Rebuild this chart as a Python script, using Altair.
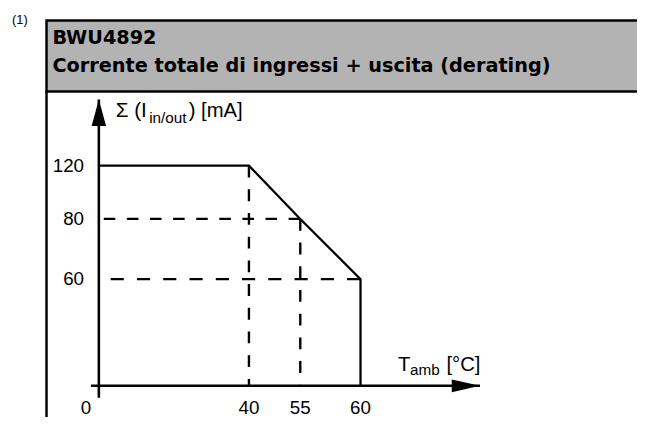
import altair as alt
import pandas as pd

# ---- data ----
curve_temp = [0, 40, 55, 60, 60]
curve_current = [120, 120, 80, 60, 0]

x_tick_values = [40, 55, 60]
x_tick_labels = ["40", "55", "60"]
y_tick_values = [120, 80, 60]
y_tick_labels = ["120", "80", "60"]

guide_h80 = {"current": 80, "t_from": 0, "t_to": 55}
guide_h60 = {"current": 60, "t_from": 0, "t_to": 60}
guide_v40 = {"temp": 40, "c_from": 120, "c_to": 0}
guide_v55 = {"temp": 55, "c_from": 80, "c_to": 0}

x_axis_from, x_axis_to = -2, 78
y_axis_from, y_axis_to = -6, 160

title_line1 = "BWU4892"
title_line2 = "Corrente totale di ingressi + uscita (derating)"
note = "(1)"

FONT = "Liberation Sans"
TFONT = "DejaVu Sans"

# schematic (non-proportional) axes -> piecewise linear scales
xscale = alt.Scale(domain=[-2, 0, 40, 55, 60, 78], range=[84, 92, 244, 296, 357, 478], nice=False, zero=False)
yscale = alt.Scale(domain=[-6, 0, 60, 80, 120, 160], range=[392, 380, 272, 211, 157, 90], nice=False, zero=False)

def X(f):
    return alt.X(f, type="quantitative", scale=xscale, axis=None)

def Y(f):
    return alt.Y(f, type="quantitative", scale=yscale, axis=None)

curve_df = pd.DataFrame({"t": curve_temp, "c": curve_current, "i": range(len(curve_temp))})
axes_df = pd.DataFrame({"t0": [x_axis_from], "t1": [x_axis_to], "c0": [y_axis_from], "c1": [y_axis_to], "z": [0]})

header = alt.Chart(axes_df).mark_rect(fill="#b3b3b3", stroke="black", strokeWidth=2.5).encode(
    x=alt.value(39), x2=alt.value(700), y=alt.value(10), y2=alt.value(82))
leftborder = alt.Chart(axes_df).mark_rule(color="black", strokeWidth=2.5).encode(
    x=alt.value(39), y=alt.value(82), y2=alt.value(430))

t1 = alt.Chart(axes_df).mark_text(text=title_line1, font=TFONT, fontSize=19.5, fontWeight="bold",
                                  align="left", baseline="alphabetic", color="black").encode(
    x=alt.value(45), y=alt.value(34))
t2 = alt.Chart(axes_df).mark_text(text=title_line2, font=TFONT, fontSize=19.5, fontWeight="bold",
                                  align="left", baseline="alphabetic", color="black").encode(
    x=alt.value(45), y=alt.value(62))
t0 = alt.Chart(axes_df).mark_text(text=note, font=FONT, fontSize=13, align="right",
                                  baseline="alphabetic", color="black").encode(
    x=alt.value(20), y=alt.value(14))

xaxis = alt.Chart(axes_df).mark_rule(color="black", strokeWidth=2.6).encode(
    x=X("t0"), x2="t1", y=Y("z"))
yaxis = alt.Chart(axes_df).mark_rule(color="black", strokeWidth=2.6).encode(
    x=X("z"), y=Y("c0"), y2="c1")

yarrow = alt.Chart(axes_df).mark_point(shape="M0,0 L1,3.7 L-1,3.7 Z", size=213, filled=True,
                                       color="black", opacity=1).encode(x=X("z"), y=Y("c1"))
xarrow = alt.Chart(axes_df).mark_point(shape="M0,0 L-4.4,-1 L-4.4,1 Z", size=169, filled=True,
                                       color="black", opacity=1).encode(x=X("t1"), y=Y("z"))

def hguide(g, dash, offset):
    df = pd.DataFrame([g])
    return alt.Chart(df).mark_rule(color="black", strokeWidth=2.4, strokeDash=dash,
                                   strokeDashOffset=offset).encode(
        x=X("t_from"), x2="t_to", y=Y("current"))

def vguide(g, dash):
    df = pd.DataFrame([g])
    return alt.Chart(df).mark_rule(color="black", strokeWidth=2.4, strokeDash=dash).encode(
        x=X("temp"), y=Y("c_from"), y2="c_to")

curve = alt.Chart(curve_df).mark_line(color="black", strokeWidth=2.3).encode(
    x=X("t"), y=Y("c"), order="i:Q")

xt_df = pd.DataFrame({"v": x_tick_values, "lab": x_tick_labels, "z": 0})
yt_df = pd.DataFrame({"v": y_tick_values, "lab": y_tick_labels, "z": 0})

xticks = alt.Chart(xt_df).mark_text(font=FONT, fontSize=19, align="center", baseline="middle",
                                    dy=23, color="black").encode(x=X("v"), y=Y("z"), text="lab")
yticks = alt.Chart(yt_df).mark_text(font=FONT, fontSize=19, align="right", baseline="middle",
                                    dx=-15, color="black").encode(x=X("z"), y=Y("v"), text="lab")
origin = alt.Chart(axes_df).mark_text(text="0", font=FONT, fontSize=19, align="center", baseline="middle",
                                      dx=-13, dy=23, color="black").encode(x=X("z"), y=Y("z"))

def txt(s, x, y, size=20):
    return alt.Chart(axes_df).mark_text(text=s, font=FONT, fontSize=size, align="left",
                                        baseline="alphabetic", color="black").encode(
        x=alt.value(x), y=alt.value(y))

ylab = txt("\u03a3 (I", 109, 108, 21) + txt("in/out", 143, 114, 15.5) + txt(") [mA]", 183, 108, 20.5)
xlab = txt("T", 395, 365, 20.5) + txt("amb", 407, 369, 15.5) + txt("[\u00b0C]", 444, 365, 20.5)

chart = alt.layer(
    header, leftborder, t0, t1, t2,
    hguide(guide_h80, [11.7, 11.7], 18.4),
    hguide(guide_h60, [13.3, 13.3], 14.6),
    vguide(guide_v40, [12, 12]),
    vguide(guide_v55, [12, 12]),
    xaxis, yaxis, yarrow, xarrow, curve,
    xticks, yticks, origin, ylab, xlab,
).properties(width=637, height=409, autosize="none", padding=0).configure_view(stroke=None)

chart.save("out.html", embed_options={"renderer": "svg", "actions": False})
